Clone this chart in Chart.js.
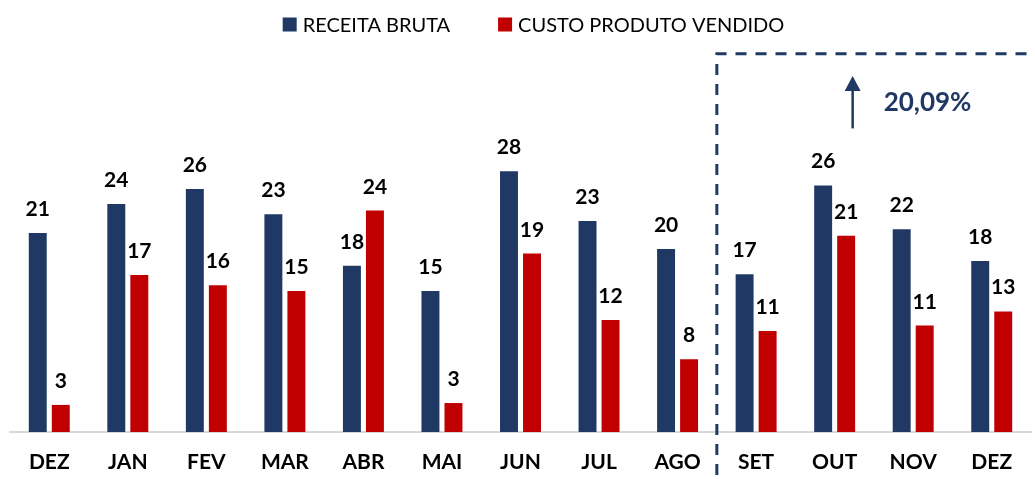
<!DOCTYPE html>
<html>
<head>
<meta charset="utf-8">
<script src="https://cdn.jsdelivr.net/npm/chart.js@4"></script>
<style>
  html, body { margin: 0; padding: 0; background: #fff; }
  #wrap { width: 1035px; height: 479px; }
</style>
</head>
<body>
<div id="wrap"><canvas id="chart"></canvas></div>
<script>
const months = ['DEZ', 'JAN', 'FEV', 'MAR', 'ABR', 'MAI', 'JUN', 'JUL', 'AGO', 'SET', 'OUT', 'NOV', 'DEZ']
const receita = [21.3, 24.4, 26.0, 23.3, 17.8, 15.1, 27.9, 22.6, 19.6, 16.9, 26.4, 21.7, 18.3]
const custo = [2.9, 16.8, 15.7, 15.1, 23.7, 3.1, 19.1, 12.0, 7.8, 10.8, 21.0, 11.4, 12.9]
const growthLabel = '20,09%'
const splitAfter = 8 // AGO

const navy = '#1F3864'
const red = '#C00000'

// legend drawn by hand so it sits tight at the top
const topLegend = {
	id: 'topLegend',
	afterDraw(chart) {
		const ctx = chart.ctx
		ctx.save()
		ctx.font = '20px Lato'
		ctx.textBaseline = 'middle'
		ctx.textAlign = 'left'
		const box = 14, gap = 6, spacing = 48
		const items = chart.data.datasets.map(ds => ({ text: ds.label, color: ds.backgroundColor, w: ctx.measureText(ds.label).width }))
		const total = items.reduce((s, it) => s + box + gap + it.w, 0) + spacing * (items.length - 1)
		let x = chart.width / 2 + 16 - total / 2
		const cy = 24.5
		items.forEach(it => {
			ctx.fillStyle = it.color
			ctx.fillRect(x, cy - box / 2, box, box)
			ctx.fillStyle = '#000'
			ctx.fillText(it.text, x + box + gap, cy + 1)
			x += box + gap + it.w + spacing
		})
		ctx.restore()
	}
}

const barLabels = {
	id: 'barLabels',
	afterDatasetsDraw(chart) {
		const ctx = chart.ctx
		ctx.save()
		ctx.font = 'bold 21px Lato'
		ctx.fillStyle = '#000'
		ctx.textAlign = 'center'
		ctx.textBaseline = 'alphabetic'
		chart.data.datasets.forEach((ds, i) => {
			chart.getDatasetMeta(i).data.forEach((bar, j) => {
				ctx.fillText(Math.round(ds.data[j]), bar.x, bar.y - 17)
			})
		})
		ctx.restore()
	}
}

const forecastBox = {
	id: 'forecastBox',
	afterDraw(chart) {
		const ctx = chart.ctx
		const x = chart.scales.x
		const y = chart.scales.y
		const lineX = (x.getPixelForValue(splitAfter) + x.getPixelForValue(splitAfter + 1)) / 2
		const topY = y.getPixelForValue(40.5)
		ctx.save()
		ctx.strokeStyle = navy
		ctx.lineWidth = 3
		ctx.setLineDash([11, 9])
		ctx.beginPath()
		ctx.moveTo(lineX, chart.height - 4)
		ctx.lineTo(lineX, topY)
		ctx.lineTo(chart.width, topY)
		ctx.stroke()
		ctx.setLineDash([])

		// arrow
		const ax = x.getPixelForValue(10) + 18
		const y0 = y.getPixelForValue(32.5)
		const y1 = y.getPixelForValue(38.1)
		ctx.lineWidth = 2.5
		ctx.beginPath()
		ctx.moveTo(ax, y0)
		ctx.lineTo(ax, y1 + 10)
		ctx.stroke()
		ctx.fillStyle = navy
		ctx.beginPath()
		ctx.moveTo(ax, y1)
		ctx.lineTo(ax - 8, y1 + 15)
		ctx.lineTo(ax + 8, y1 + 15)
		ctx.closePath()
		ctx.fill()

		ctx.font = 'bold 26px Lato'
		ctx.textAlign = 'left'
		ctx.textBaseline = 'middle'
		ctx.fillText(growthLabel, ax + 31, y.getPixelForValue(35.3))
		ctx.restore()
	}
}

new Chart('chart', {
	type: 'bar',
	data: {
		labels: months,
		datasets: [
			{
				label: 'RECEITA BRUTA',
				data: receita,
				backgroundColor: navy,
				categoryPercentage: 0.586,
				barPercentage: 0.78
			},
			{
				label: 'CUSTO PRODUTO VENDIDO',
				data: custo,
				backgroundColor: red,
				categoryPercentage: 0.586,
				barPercentage: 0.78
			}
		]
	},
	options: {
		responsive: true,
		maintainAspectRatio: false,
		animation: false,
		layout: {
			padding: { left: 10, right: 4, top: 49, bottom: 0 }
		},
		plugins: {
			legend: { display: false },
			tooltip: { enabled: false }
		},
		scales: {
			x: {
				grid: { display: false, drawTicks: false },
				border: { display: true, color: '#d9d9d9', width: 2 },
				ticks: {
					font: { family: 'Lato', size: 21, weight: 'bold' },
					color: '#000',
					padding: 18
				},
				afterFit(scale) {
					scale.height = 47
				}
			},
			y: {
				display: false,
				min: 0,
				max: 41
			}
		}
	},
	plugins: [barLabels, forecastBox, topLegend]
})
</script>
</body>
</html>
